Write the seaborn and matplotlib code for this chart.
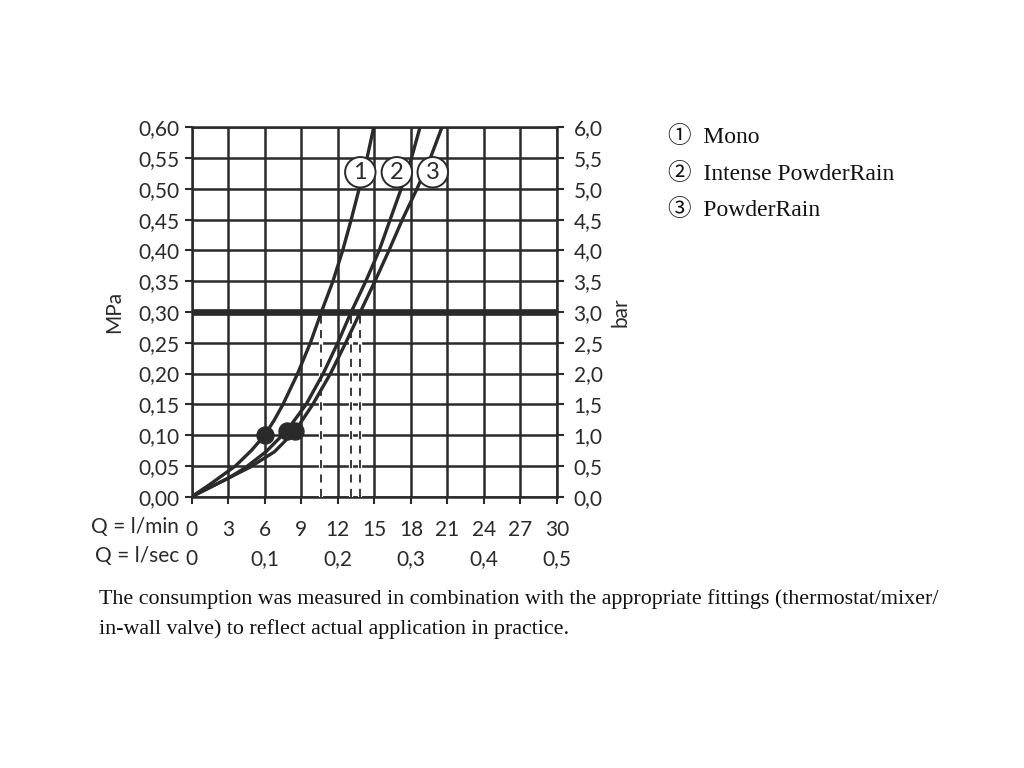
import numpy as np
import pandas as pd
import matplotlib
matplotlib.use("Agg")
import matplotlib.pyplot as plt
import seaborn as sns

# ---------------- data ----------------

p_mono = [0, 0.02, 0.05, 0.075, 0.10, 0.125, 0.15, 0.175, 0.20, 0.25, 0.30, 0.35, 0.40, 0.45, 0.50, 0.55, 0.60]
q_mono = [0, 1.5, 3.6, 4.9, 6.0, 6.8, 7.5, 8.1, 8.7, 9.75, 10.65, 11.6, 12.4, 13.1, 13.75, 14.4, 14.95]

p_intense = [0, 0.015, 0.03, 0.047, 0.073, 0.107, 0.15, 0.20, 0.25, 0.30, 0.35, 0.40, 0.45, 0.50, 0.55, 0.60]
q_intense = [0, 1.5, 3.0, 4.4, 6.1, 7.8, 9.4, 10.8, 12.0, 13.1, 14.3, 15.4, 16.3, 17.2, 18.05, 18.75]

p_powder = [0, 0.015, 0.03, 0.048, 0.073, 0.107, 0.15, 0.20, 0.25, 0.30, 0.35, 0.40, 0.45, 0.50, 0.55, 0.60]
q_powder = [0, 1.5, 3.0, 4.8, 6.8, 8.5, 9.95, 11.4, 12.65, 13.85, 15.05, 16.2, 17.3, 18.5, 19.6, 20.55]

dot_q = [6.0, 7.8, 8.5]
dot_p = [0.10, 0.107, 0.107]

ref_p = 0.30
ref_q = [10.65, 13.1, 13.85]

label_text = ["1", "2", "3"]
label_q = [13.85, 16.85, 19.8]
label_p = [0.527, 0.527, 0.527]

legend_items = ["\u2460  Mono", "\u2461  Intense PowderRain", "\u2462  PowderRain"]

x_ticks = list(range(0, 31, 3))
x_min_labels = ["0", "3", "6", "9", "12", "15", "18", "21", "24", "27", "30"]
x_sec_labels = ["0", "", "0,1", "", "0,2", "", "0,3", "", "0,4", "", "0,5"]
y_ticks = [0, 0.05, 0.10, 0.15, 0.20, 0.25, 0.30, 0.35, 0.40, 0.45, 0.50, 0.55, 0.60]
y_labels = ["0,00", "0,05", "0,10", "0,15", "0,20", "0,25", "0,30", "0,35", "0,40", "0,45", "0,50", "0,55", "0,60"]
bar_ticks = [0, 0.5, 1.0, 1.5, 2.0, 2.5, 3.0, 3.5, 4.0, 4.5, 5.0, 5.5, 6.0]
bar_labels = ["0,0", "0,5", "1,0", "1,5", "2,0", "2,5", "3,0", "3,5", "4,0", "4,5", "5,0", "5,5", "6,0"]

caption = ("The consumption was measured in combination with the appropriate fittings (thermostat/mixer/\n"
           "in-wall valve) to reflect actual application in practice.")

# ---------------- table for seaborn ----------------

curves = pd.concat([
    pd.DataFrame({"Q": q_mono, "P": p_mono, "shower": "Mono"}),
    pd.DataFrame({"Q": q_intense, "P": p_intense, "shower": "Intense PowderRain"}),
    pd.DataFrame({"Q": q_powder, "P": p_powder, "shower": "PowderRain"}),
])
dots = pd.DataFrame({"Q": dot_q, "P": dot_p})

# ---------------- style ----------------

sns.set_theme(style="white")
ink = "#2a2a2a"
sans = ["Lato", "DejaVu Sans"]
serif = ["Liberation Serif", "DejaVu Serif"]
plt.rcParams["font.family"] = sans
fs = 15

fig = plt.figure(figsize=(10.24, 7.68), dpi=100)
ax = fig.add_axes([0.1872, 0.3533, 0.3567, 0.4809])

sns.lineplot(data=curves, x="Q", y="P", units="shower", estimator=None, sort=False,
             color=ink, lw=2.4, ax=ax, zorder=5)
sns.scatterplot(data=dots, x="Q", y="P", color=ink, s=150, edgecolor=ink, ax=ax, zorder=6)

ax.axhline(ref_p, color=ink, lw=4.8, zorder=4)
for q in ref_q:
    ax.plot([q, q], [0, ref_p], color="white", lw=3.0, zorder=3)
    ax.plot([q, q], [0, ref_p], color=ink, lw=1.3, ls=(0, (4.5, 3.5)), zorder=3.5)

for t, q, p in zip(label_text, label_q, label_p):
    ax.text(q, p, t, ha="center", va="center", fontsize=17, color=ink, zorder=7,
            bbox=dict(boxstyle="circle,pad=0.2", fc="white", ec=ink, lw=1.4))

ax.set_xlim(0, 30)
ax.set_ylim(0, 0.60)
ax.set_xticks(x_ticks)
ax.set_xticklabels([a + "\n" + b for a, b in zip(x_min_labels, x_sec_labels)],
                   fontsize=fs, color=ink, linespacing=1.55)
ax.set_yticks(y_ticks)
ax.set_yticklabels(y_labels, fontsize=fs, color=ink)
ax.grid(True, color=ink, lw=1.8, zorder=1)
ax.set_axisbelow(True)
ax.tick_params(axis="both", direction="out", length=5, width=1.5, color=ink, pad=4,
               bottom=True, left=True)
ax.tick_params(axis="x", pad=12)
for s in ax.spines.values():
    s.set_color(ink)
    s.set_linewidth(1.8)
ax.set_xlabel("")
ax.set_ylabel("MPa", fontsize=fs, color=ink, labelpad=10)
if ax.get_legend() is not None:
    ax.get_legend().remove()

ax2 = ax.twinx()
ax2.set_ylim(0, 6.0)
ax2.set_yticks(bar_ticks)
ax2.set_yticklabels(bar_labels, fontsize=fs, color=ink)
ax2.tick_params(axis="y", direction="out", length=5, width=1.5, color=ink, pad=7, right=True)
ax2.set_ylabel("bar", fontsize=fs, color=ink, rotation=90, labelpad=6)
for s in ax2.spines.values():
    s.set_visible(False)

fig.text(179 / 1024, 1 - 527 / 768, "Q = l/min", ha="right", va="center", fontsize=fs, color=ink)
fig.text(179 / 1024, 1 - 556 / 768, "Q = l/sec", ha="right", va="center", fontsize=fs, color=ink)

for i, item in enumerate(legend_items):
    fig.text(668 / 1024, 1 - (137 + 36.5 * i) / 768, item, ha="left", va="center",
             fontsize=17, color="#111111", family=serif + ["Noto Sans CJK SC"])

fig.text(99 / 1024, 1 - 614 / 768, caption, ha="left", va="center", fontsize=15.8,
         color="#111111", family=serif, linespacing=1.7)

fig.savefig("out.png", dpi=100, facecolor="white")
